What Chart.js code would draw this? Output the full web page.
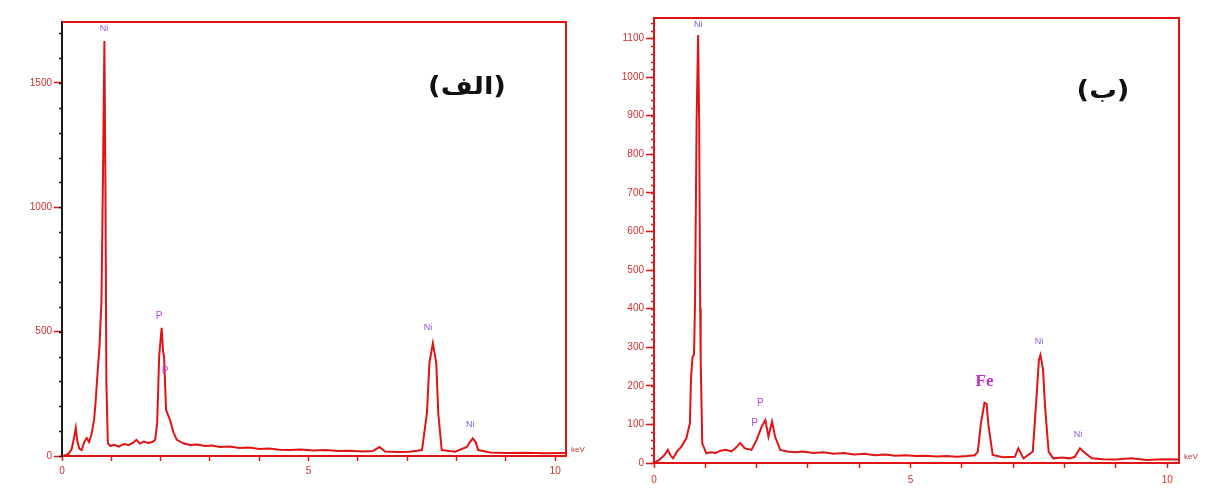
<!DOCTYPE html>
<html>
<head>
<meta charset="utf-8">
<script src="https://cdn.jsdelivr.net/npm/chart.js@4.4.0/dist/chart.umd.min.js"></script>
<style>
  body { margin: 0; background: #fff; width: 1206px; height: 491px; overflow: hidden; position: relative; }
  .panel { position: absolute; top: 0; height: 491px; }
  #pa { left: 0; width: 600px; }
  #pb { left: 600px; width: 606px; }
  .tag { position: absolute; font: bold 24px "DejaVu Sans", sans-serif; color: #111;
         transform: translate(-50%, -50%) scaleX(1.15); white-space: nowrap; }
</style>
</head>
<body>
<div class="panel" id="pa"><canvas id="chartA" width="600" height="491"></canvas></div>
<div class="panel" id="pb"><canvas id="chartB" width="606" height="491"></canvas></div>
<div class="tag" dir="rtl" style="left:467px;top:86px">(الف)</div>
<div class="tag" dir="rtl" style="left:1103px;top:90px">(ب)</div>
<script>
/* EDS spectra, two samples: counts vs energy (keV) */

// spectrum (الف)
const keV_A = [0.00, 0.08, 0.14, 0.20, 0.25, 0.28, 0.31, 0.35, 0.40, 0.45, 0.50, 0.55, 0.60, 0.65, 0.68, 0.72,
  0.76, 0.80, 0.83, 0.86, 0.88, 0.90, 0.93, 0.98, 1.05, 1.15, 1.25, 1.35, 1.45, 1.51, 1.58, 1.66, 1.75, 1.83,
  1.89, 1.93, 1.97, 2.02, 2.05, 2.07, 2.11, 2.19, 2.26, 2.33, 2.47, 2.60, 2.75, 2.90, 3.05, 3.20, 3.40, 3.60,
  3.80, 4.00, 4.20, 4.40, 4.62, 4.85, 5.10, 5.35, 5.60, 5.85, 6.10, 6.30, 6.44, 6.55, 6.80, 7.05, 7.30, 7.40,
  7.45, 7.52, 7.59, 7.63, 7.70, 7.97, 8.21, 8.27, 8.33, 8.39, 8.44, 8.68, 9.00, 9.40, 9.80, 10.22];
const counts_A = [0, 4, 10, 30, 80, 113, 60, 30, 24, 56, 72, 56, 88, 145, 213, 330,
  440, 620, 1110, 1669, 1110, 294, 52, 40, 45, 38, 48, 44, 55, 65, 50, 58, 52, 56,
  65, 133, 400, 515, 420, 400, 185, 145, 95, 65, 50, 44, 46, 40, 42, 36, 38, 32,
  34, 28, 30, 25, 24, 26, 22, 24, 20, 21, 18, 20, 36, 18, 16, 17, 24, 172,
  373, 454, 373, 172, 24, 17, 36, 55, 71, 55, 24, 14, 12, 13, 11, 12];

// spectrum (ب)
const keV_B = [0.00, 0.10, 0.20, 0.27, 0.32, 0.37, 0.45, 0.53, 0.63, 0.70, 0.72, 0.75, 0.78, 0.80, 0.83, 0.86,
  0.88, 0.90, 0.91, 0.94, 1.02, 1.10, 1.20, 1.30, 1.40, 1.51, 1.60, 1.68, 1.77, 1.90, 2.00, 2.10, 2.17, 2.23,
  2.30, 2.36, 2.46, 2.60, 2.75, 2.90, 3.10, 3.30, 3.50, 3.70, 3.90, 4.10, 4.30, 4.50, 4.70, 4.90, 5.10, 5.30,
  5.50, 5.70, 5.90, 6.10, 6.25, 6.31, 6.37, 6.44, 6.48, 6.52, 6.60, 6.80, 7.03, 7.10, 7.20, 7.38, 7.45, 7.50,
  7.53, 7.58, 7.62, 7.69, 7.78, 7.95, 8.10, 8.20, 8.30, 8.37, 8.53, 8.75, 9.00, 9.30, 9.60, 9.90, 10.23];
const counts_B = [0, 8, 20, 34, 20, 12, 30, 42, 64, 103, 215, 275, 280, 420, 884, 1109,
  884, 400, 267, 51, 25, 28, 26, 32, 34, 30, 40, 52, 38, 34, 60, 95, 111, 68,
  107, 68, 34, 30, 28, 30, 26, 28, 24, 26, 22, 24, 20, 22, 19, 20, 18, 19,
  17, 18, 16, 18, 20, 29, 103, 156, 153, 95, 21, 15, 16, 38, 12, 29, 163, 267,
  280, 244, 146, 29, 12, 14, 12, 16, 38, 29, 12, 10, 9, 12, 8, 10, 9];

// element markers: energy, counts, text
const peaks_A_keV = [0.85, 1.97, 2.09, 7.42, 8.28];
const peaks_A_cnt = [1718, 560, 339, 516, 125];
const peaks_A_txt = ["Ni", "P", "P", "Ni", "Ni"];

const peaks_B_keV = [0.86, 2.07, 1.96, 6.44, 7.50, 8.26];
const peaks_B_cnt = [1135, 155, 104, 212, 316, 75];
const peaks_B_txt = ["Ni", "P", "P", "Fe", "Ni", "Ni"];

const xTicks = [0, 1, 2, 3, 4, 5, 6, 7, 8, 9, 10];
const xLabels = [0, 5, 10];
const yTicks_A = [0, 500, 1000, 1500];
const yTicks_B = [0, 100, 200, 300, 400, 500, 600, 700, 800, 900, 1000, 1100];

const RED = "#e01414";
const TICK_RED = "#d0302c";

const LABEL_STYLE = {
  Ni: { font: "9px 'Liberation Sans', sans-serif", color: "#8c5ad0" },
  P:  { font: "10px 'Liberation Sans', sans-serif", color: "#b848e0" },
  Fe: { font: "bold 17px 'Liberation Serif', serif", color: "#c42cd0" },
};

const decor = {
  id: "decor",
  afterDraw(chart, args, o) {
    const ctx = chart.ctx, a = chart.chartArea;
    const xs = chart.scales.x, ys = chart.scales.y;
    ctx.save();
    // top + right frame
    ctx.strokeStyle = RED;
    ctx.lineWidth = 2;
    ctx.beginPath();
    ctx.moveTo(a.left, a.top);
    ctx.lineTo(a.right, a.top);
    ctx.lineTo(a.right, a.bottom);
    ctx.stroke();
    // minor ticks on the count axis
    ctx.strokeStyle = o.minorColor;
    ctx.lineWidth = 1.5;
    ctx.beginPath();
    for (let v = 0; v <= ys.max; v += o.minorStep) {
      const py = Math.round(ys.getPixelForValue(v)) + 0.5;
      ctx.moveTo(a.left - 3, py);
      ctx.lineTo(a.left, py);
    }
    ctx.stroke();
    // unit
    ctx.fillStyle = "#b03838";
    ctx.font = "8px 'Liberation Sans', sans-serif";
    ctx.textAlign = "left";
    ctx.textBaseline = "middle";
    ctx.fillText("keV", a.right + 5, a.bottom - 6);
    // element labels
    ctx.textAlign = "center";
    o.kev.forEach((k, i) => {
      const st = LABEL_STYLE[o.txt[i]];
      ctx.font = st.font;
      ctx.fillStyle = st.color;
      ctx.fillText(o.txt[i], xs.getPixelForValue(k), ys.getPixelForValue(o.cnt[i]));
    });
    ctx.restore();
  }
};

function makeSpectrum(canvas, cfg) {
  return new Chart(canvas, {
    type: "line",
    data: {
      datasets: [{
        data: cfg.kev.map((x, i) => ({ x: x, y: cfg.cnt[i] })),
        borderColor: RED,
        borderWidth: 2,
        pointRadius: 0,
        tension: 0,
      }]
    },
    options: {
      responsive: false,
      animation: false,
      layout: { padding: { top: cfg.padTop, right: cfg.padRight, left: 0, bottom: 0 } },
      plugins: { legend: { display: false }, tooltip: { enabled: false }, decor: cfg.marks },
      scales: {
        x: {
          type: "linear",
          min: 0,
          max: cfg.xMax,
          afterBuildTicks: s => { s.ticks = xTicks.map(v => ({ value: v })); },
          afterFit: s => { s.height = cfg.xH; },
          ticks: {
            autoSkip: false,
            maxRotation: 0,
            padding: cfg.xPad,
            color: TICK_RED,
            font: { size: 10, family: "'Liberation Sans', sans-serif" },
            callback: v => xLabels.includes(v) ? String(v) : ""
          },
          grid: { drawOnChartArea: false, tickLength: 5, tickColor: RED, tickWidth: 1.5 },
          border: { color: RED, width: 2 }
        },
        y: {
          type: "linear",
          min: 0,
          max: cfg.yMax,
          afterBuildTicks: s => { s.ticks = cfg.yTicks.map(v => ({ value: v })); },
          afterFit: s => { s.width = cfg.yW; },
          ticks: {
            autoSkip: false,
            padding: 2,
            color: TICK_RED,
            font: { size: 10, family: "'Liberation Sans', sans-serif" },
            callback: v => String(v)
          },
          grid: { drawOnChartArea: false, tickLength: 8, tickColor: RED, tickWidth: 1.5 },
          border: { color: cfg.yAxisColor, width: 2 }
        }
      }
    },
    plugins: [decor]
  });
}

makeSpectrum(document.getElementById("chartA"), {
  kev: keV_A, cnt: counts_A, yTicks: yTicks_A,
  xMax: 10.22, yMax: 1745,
  yW: 62, xH: 35, xPad: 4, padTop: 22, padRight: 34,
  yAxisColor: "#1a1a1a",
  marks: { kev: peaks_A_keV, cnt: peaks_A_cnt, txt: peaks_A_txt, minorStep: 100, minorColor: "#1a1a1a" }
});

makeSpectrum(document.getElementById("chartB"), {
  kev: keV_B, cnt: counts_B, yTicks: yTicks_B,
  xMax: 10.23, yMax: 1153,
  yW: 54, xH: 28, xPad: 6, padTop: 18, padRight: 27,
  yAxisColor: RED,
  marks: { kev: peaks_B_keV, cnt: peaks_B_cnt, txt: peaks_B_txt, minorStep: 20, minorColor: RED }
});
</script>
</body>
</html>
